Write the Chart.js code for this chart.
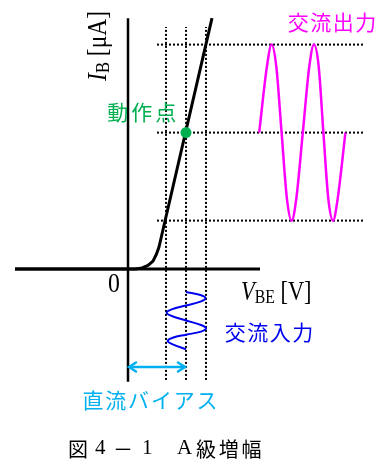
<!DOCTYPE html>
<html><head><meta charset="utf-8">
<script src="https://cdn.jsdelivr.net/npm/chart.js@4/dist/chart.umd.min.js"></script>
<style>html,body{margin:0;padding:0;background:#fff}canvas{display:block}</style>
</head><body>
<canvas id="c" width="384" height="474"></canvas>
<script>
// ---------- data (V_BE in volts, I_B in μA) ----------
// input characteristic I_B(V_BE)
const curveV = [-0.565, 0.035, 0.07, 0.10, 0.125, 0.1425, 0.155, 0.42];
const curveI = [0, 0, 0.23, 0.8, 1.8, 3.4, 5.0, 57.0];
// input swing of V_BE: min, operating point, max
const biasV = [0.19, 0.29, 0.39];
// resulting swing of I_B: min, operating point, max
const levelI = [11, 31, 51];
// operating point
const opV = 0.29, opI = 31;
// AC output waveform
const outV = [0.656, 0.6945, 0.718, 0.7415, 0.768, 0.7945, 0.818, 0.8415, 0.874,
              0.9065, 0.93, 0.9535, 0.977, 1.0015, 1.025, 1.0485, 1.087];
const outI = [31, 46, 51, 46, 31, 16, 11, 16, 31, 46, 51, 46, 31, 16, 11, 16, 31];
// AC input waveform, drawn below the V axis (downwards = time)
const inV = [0.29, 0.3625, 0.3875, 0.3625, 0.29, 0.2185, 0.1935, 0.2185, 0.29,
             0.365, 0.39, 0.365, 0.29, 0.2235, 0.1985, 0.2235, 0.29];
const inT = [-5.23, -5.91, -6.66, -7.41, -8.30, -9.18, -9.93, -10.68, -11.70,
             -12.73, -13.48, -14.23, -14.93, -15.61, -16.36, -17.11, -18.25];

// ---------- layout (not data) ----------
const axisVRange = [-0.565, 0.66];
const axisIRange = [-25.6, 57];
const gridIExtent = [-25.2, 55];
const gridVExtent = [0.145, 1.175];
const arrowI = -22.27;

const CJK = '"Noto Sans CJK JP"';
const SERIF = '"Liberation Serif"';
const labels = [
  {runs:[{t:'交流出力', font:'21px '+CJK, sp:1.5}], v:1.02, i:56.1, color:'#ff00ff', align:'center'},
  {runs:[{t:'動作点', font:'21px '+CJK, sp:3}], v:0.0685, i:35.75, color:'#00b050', align:'center'},
  {runs:[{t:'交流入力', font:'21px '+CJK, sp:1.5}], v:0.705, i:-14.25, color:'#0000f0', align:'center'},
  {runs:[{t:'直流バイアス', font:'21px '+CJK, sp:1.8}], v:0.11, i:-29.8, color:'#00b0f0', align:'center'},
  {runs:[{t:'0', font:'28px '+SERIF}], v:-0.07, i:-3.6, color:'#000', align:'center', sx:0.85},
  {runs:[{t:'V', font:'italic 27px '+SERIF}, {t:'BE', font:'19px '+SERIF, dy:5}, {t:' [V]', font:'27px '+SERIF}],
   v:0.565, i:-5.45, color:'#000', align:'left', sx:0.83},
  {runs:[{t:'I', font:'italic 27px '+SERIF}, {t:'B', font:'19px '+SERIF, dy:5}, {t:' [μA]', font:'27px '+SERIF}],
   v:-0.145, i:50.7, color:'#000', align:'center', rot:-Math.PI/2, sx:0.87},
  {runs:[{t:'図', font:'20px '+CJK, ox:0}, {t:'4', font:'21px '+SERIF, ox:27}, {t:'－', font:'20px '+CJK, ox:45},
         {t:'1', font:'21px '+SERIF, ox:74}, {t:'A', font:'21px '+SERIF, ox:109},
         {t:'級増幅', font:'20px '+CJK, sp:2.8, ox:128}],
   v:-0.3, i:-40.9, color:'#000', align:'left'}
];

function runWidth(ctx, r) {
  ctx.font = r.font;
  const sp = r.sp || 0;
  const chars = Array.from(r.t);
  let w = 0;
  chars.forEach((ch, k) => { w += ctx.measureText(ch).width + (k < chars.length - 1 ? sp : 0); });
  return w;
}
function drawLabel(ctx, L, x, y) {
  ctx.save();
  ctx.translate(x, y);
  if (L.rot) ctx.rotate(L.rot);
  if (L.sx) ctx.scale(L.sx, 1);
  ctx.fillStyle = L.color;
  ctx.textBaseline = 'middle';
  ctx.textAlign = 'left';
  const widths = L.runs.map(r => runWidth(ctx, r));
  const total = widths.reduce((a, b) => a + b, 0);
  let cx = L.align === 'center' ? -total / 2 : 0;
  L.runs.forEach(r => {
    ctx.font = r.font;
    const sp = r.sp || 0;
    if (r.ox !== undefined) cx = r.ox;
    for (const ch of Array.from(r.t)) {
      ctx.fillText(ch, cx, r.dy || 0);
      cx += ctx.measureText(ch).width + sp;
    }
    cx -= sp;
  });
  ctx.restore();
}

const decor = {
  id: 'decor',
  afterDatasetsDraw(chart) {
    const ctx = chart.ctx;
    const xs = chart.scales.x, ys = chart.scales.y;
    // double-headed arrow heads for the DC bias
    const y = ys.getPixelForValue(arrowI);
    const x0 = xs.getPixelForValue(0), x1 = xs.getPixelForValue(biasV[1]);
    ctx.save();
    ctx.strokeStyle = '#00b0f0';
    ctx.lineWidth = 2.5;
    ctx.lineCap = 'round';
    ctx.beginPath();
    ctx.moveTo(x0 + 8, y - 4.5); ctx.lineTo(x0 + 1, y); ctx.lineTo(x0 + 8, y + 4.5);
    ctx.moveTo(x1 - 8, y - 4.5); ctx.lineTo(x1 - 1, y); ctx.lineTo(x1 - 8, y + 4.5);
    ctx.stroke();
    ctx.restore();
    labels.forEach(L => drawLabel(ctx, L, xs.getPixelForValue(L.v), ys.getPixelForValue(L.i)));
  }
};

const pts = (a, b) => a.map((v, k) => ({x: v, y: b[k]}));
const seg = (x0, y0, x1, y1) => [{x: x0, y: y0}, {x: x1, y: y1}];
const base = {type: 'line', showLine: true, pointRadius: 0, pointHoverRadius: 0, fill: false, tension: 0};

const datasets = [
  {type: 'scatter', data: [{x: opV, y: opI}], showLine: false, pointRadius: 5.5, pointHoverRadius: 5.5,
   pointBackgroundColor: '#00b050', pointBorderWidth: 0, order: 0},
  Object.assign({}, base, {data: pts(curveV, curveI), borderColor: '#000', borderWidth: 3, order: 1,
   borderJoinStyle: 'round'}),
  Object.assign({}, base, {data: seg(0, axisIRange[0], 0, axisIRange[1]), borderColor: '#000', borderWidth: 2.5, order: 2}),
  Object.assign({}, base, {data: seg(axisVRange[0], 0, axisVRange[1], 0), borderColor: '#000', borderWidth: 3, order: 2}),
  Object.assign({}, base, {data: pts(outV, outI), borderColor: '#ff00ff', borderWidth: 2.5,
   cubicInterpolationMode: 'monotone', order: 3}),
  Object.assign({}, base, {data: pts(inV, inT), borderColor: '#0000f0', borderWidth: 2, tension: 0.4,
   capBezierPoints: false, order: 3}),
  Object.assign({}, base, {data: seg(0, arrowI, biasV[1], arrowI), borderColor: '#00b0f0', borderWidth: 2.5, order: 3})
];
biasV.forEach(v => datasets.push(Object.assign({}, base, {data: seg(v, gridIExtent[0], v, gridIExtent[1]),
  borderColor: '#000', borderWidth: 2, borderDash: [2, 2], order: 10})));
levelI.forEach(i => datasets.push(Object.assign({}, base, {data: seg(gridVExtent[0], i, gridVExtent[1], i),
  borderColor: '#000', borderWidth: 2, borderDash: [2, 2], order: 10})));

new Chart(document.getElementById('c'), {
  type: 'scatter',
  data: {datasets},
  options: {
    responsive: false,
    devicePixelRatio: 1,
    animation: false,
    events: [],
    layout: {padding: 0, autoPadding: false},
    plugins: {legend: {display: false}, tooltip: {enabled: false}},
    scales: {
      x: {type: 'linear', min: -0.64, max: 1.28, display: false},
      y: {type: 'linear', min: -46.59, max: 61.136, display: false}
    }
  },
  plugins: [decor]
});
</script>
</body></html>
